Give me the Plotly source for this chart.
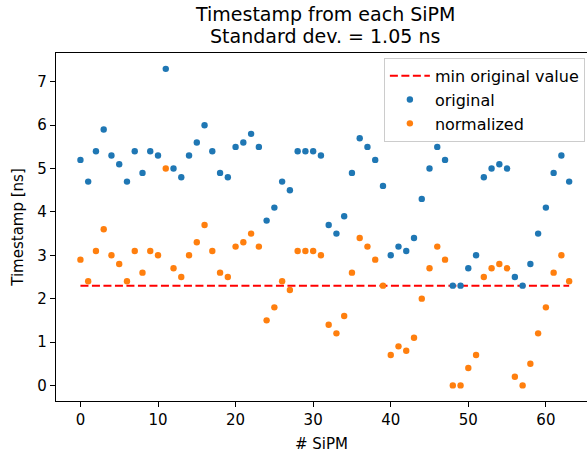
import plotly.graph_objects as go

sipm = list(range(64))
original = [5.2, 4.7, 5.4, 5.9, 5.3, 5.1, 4.7, 5.4, 4.9, 5.4, 5.3, 7.3, 5.0, 4.8, 5.3, 5.6,
            6.0, 5.4, 4.9, 4.8, 5.5, 5.6, 5.8, 5.5, 3.8, 4.1, 4.7, 4.5, 5.4, 5.4, 5.4, 5.3,
            3.7, 3.5, 3.9, 4.9, 5.7, 5.5, 5.2, 4.6, 3.0, 3.2, 3.1, 3.4, 4.3, 5.0, 5.5, 5.2,
            2.3, 2.3, 2.7, 3.0, 4.8, 5.0, 5.1, 5.0, 2.5, 2.3, 2.8, 3.5, 4.1, 4.9, 5.3, 4.7]
normalized = [2.9, 2.4, 3.1, 3.6, 3.0, 2.8, 2.4, 3.1, 2.6, 3.1, 3.0, 5.0, 2.7, 2.5, 3.0, 3.3,
              3.7, 3.1, 2.6, 2.5, 3.2, 3.3, 3.5, 3.2, 1.5, 1.8, 2.4, 2.2, 3.1, 3.1, 3.1, 3.0,
              1.4, 1.2, 1.6, 2.6, 3.4, 3.2, 2.9, 2.3, 0.7, 0.9, 0.8, 1.1, 2.0, 2.7, 3.2, 2.9,
              0.0, 0.0, 0.4, 0.7, 2.5, 2.7, 2.8, 2.7, 0.2, 0.0, 0.5, 1.2, 1.8, 2.6, 3.0, 2.4]
min_value = 2.3
line_x = [0, 63]
line_y = [min_value, min_value]
x_ticks = [0, 10, 20, 30, 40, 50, 60]
y_ticks = [0, 1, 2, 3, 4, 5, 6, 7]
title_lines = ["Timestamp from each SiPM", "Standard dev. = 1.05 ns"]

font = "DejaVu Sans"
fig = go.Figure()
fig.add_trace(go.Scatter(x=line_x, y=line_y, mode="lines", name="min original value",
                         line=dict(color="red", width=2, dash="8px,3.5px")))
fig.add_trace(go.Scatter(x=sipm, y=original, mode="markers", name="original",
                         marker=dict(color="#1f77b4", size=6.4, line=dict(width=0))))
fig.add_trace(go.Scatter(x=sipm, y=normalized, mode="markers", name="normalized",
                         marker=dict(color="#ff7f0e", size=6.4, line=dict(width=0))))

axis_common = dict(showgrid=False, zeroline=False, showline=True, linecolor="black",
                   linewidth=1.2, ticks="outside", ticklen=5, tickwidth=1.2, tickcolor="black",
                   tickfont=dict(family=font, size=15, color="black"))
fig.update_layout(
    width=587, height=454,
    margin=dict(l=56, r=0, t=53, b=53),
    plot_bgcolor="white", paper_bgcolor="white",
    font=dict(family=font, color="black"),
    xaxis=dict(range=[-3.15, 65.3], tickvals=x_ticks, mirror=True,
               title=dict(text="# SiPM", font=dict(family=font, size=15), standoff=10),
               **axis_common),
    yaxis=dict(range=[-0.36, 7.665], tickvals=y_ticks,
               title=dict(text="Timestamp [ns]", font=dict(family=font, size=15), standoff=10),
               **axis_common),
    legend=dict(x=0.996, y=0.986, xanchor="right", yanchor="top", itemwidth=40,
                bgcolor="rgba(255,255,255,0.8)", bordercolor="#cccccc", borderwidth=1,
                font=dict(family=font, size=16, color="black")),
    showlegend=True,
)
for text, ypos in zip(title_lines, [1.113, 1.049]):
    fig.add_annotation(text=text, xref="paper", yref="paper", x=0.5066, y=ypos,
                       xanchor="center", yanchor="middle", showarrow=False,
                       font=dict(family=font, size=19, color="black"))
fig.write_html("out.html")
